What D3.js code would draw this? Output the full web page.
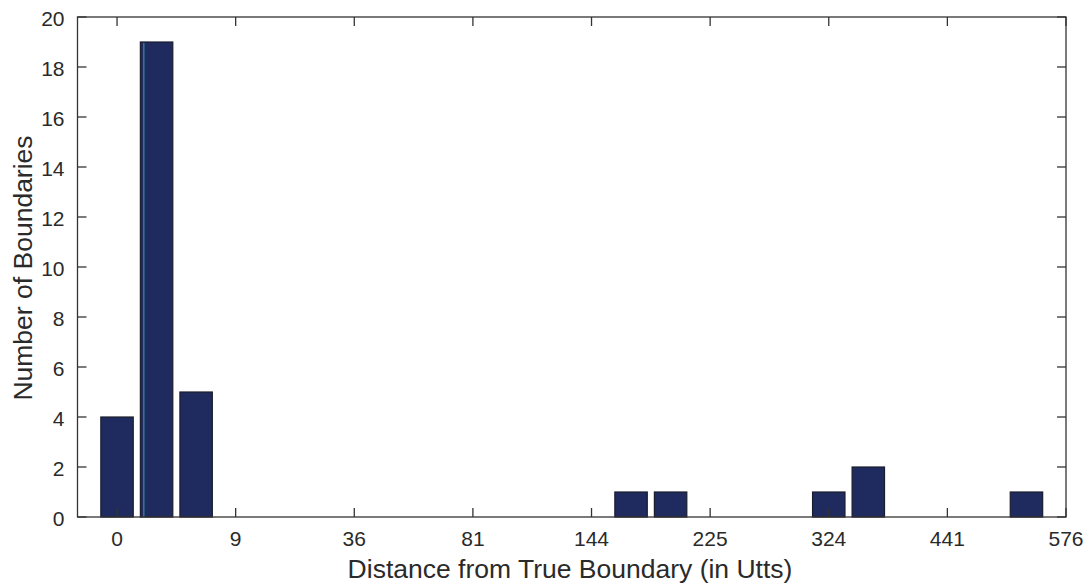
<!DOCTYPE html>
<html>
<head>
<meta charset="utf-8">
<script src="https://cdn.jsdelivr.net/npm/d3@7"></script>
<style>
  body { margin: 0; background: #fff; }
  text { font-family: "Liberation Sans", Arial, sans-serif; fill: #2a2a2a; }
</style>
</head>
<body>
<div id="chart"></div>
<script>
// distances (in utts) and number of boundaries found at each
var distances = [0, 1, 4, 169, 196, 324, 361, 529];
var counts = [4, 19, 5, 1, 1, 1, 2, 1];
var xTickValues = [0, 9, 36, 81, 144, 225, 324, 441, 576];
var yTickValues = [0, 2, 4, 6, 8, 10, 12, 14, 16, 18, 20];

var W = 1091, H = 586;
var plotLeft = 77.5, plotRight = 1066, plotTop = 17, plotBottom = 517;

var svg = d3.select('#chart').append('svg').attr('width', W).attr('height', H);

// x axis is drawn in square-root units
var x = d3.scaleLinear().domain([-1, 24]).range([plotLeft, plotRight]);
var y = d3.scaleLinear().domain([0, 20]).range([plotBottom, plotTop]);
var barW = x(0.82) - x(0);

var data = distances.map((d, i) => ({ d: d, n: counts[i] }));

svg.selectAll('.bar')
    .data(data)
    .enter()
    .append('rect')
    .attr('class', 'bar')
    .attr('x', (a) => x(Math.sqrt(a.d)) - barW / 2)
    .attr('y', (a) => y(a.n))
    .attr('width', barW)
    .attr('height', (a) => y(0) - y(a.n))
    .attr('fill', '#1f2b5e')
    .attr('stroke', '#1a1d2e')
    .attr('stroke-width', 1.2);

// the thin cyan streak on the tallest bar
var tall = data[1];
svg.append('line')
    .attr('x1', x(Math.sqrt(tall.d)) - barW / 2 + 3.5)
    .attr('x2', x(Math.sqrt(tall.d)) - barW / 2 + 3.5)
    .attr('y1', y(tall.n) + 1)
    .attr('y2', y(0))
    .attr('stroke', '#3e9fae')
    .attr('stroke-width', 1);

var axisColor = '#333';
var tick = 9;

// box
svg.append('rect')
    .attr('x', plotLeft).attr('y', plotTop)
    .attr('width', plotRight - plotLeft).attr('height', plotBottom - plotTop)
    .attr('fill', 'none')
    .attr('stroke', axisColor)
    .attr('stroke-width', 1.3);

// x ticks, bottom and top, pointing inward
var gx = svg.append('g');
xTickValues.forEach(function (v) {
    var px = x(Math.sqrt(v));
    gx.append('line').attr('x1', px).attr('x2', px).attr('y1', plotBottom).attr('y2', plotBottom - tick)
        .attr('stroke', axisColor).attr('stroke-width', 1.3);
    gx.append('line').attr('x1', px).attr('x2', px).attr('y1', plotTop).attr('y2', plotTop + tick)
        .attr('stroke', axisColor).attr('stroke-width', 1.3);
    gx.append('text')
        .attr('x', px)
        .attr('y', plotBottom + 29)
        .attr('text-anchor', 'middle')
        .attr('font-size', 21)
        .text(v);
});

// y ticks, left and right
var gy = svg.append('g');
yTickValues.forEach(function (v) {
    var py = y(v);
    gy.append('line').attr('x1', plotLeft).attr('x2', plotLeft + tick).attr('y1', py).attr('y2', py)
        .attr('stroke', axisColor).attr('stroke-width', 1.3);
    gy.append('line').attr('x1', plotRight).attr('x2', plotRight - tick).attr('y1', py).attr('y2', py)
        .attr('stroke', axisColor).attr('stroke-width', 1.3);
    gy.append('text')
        .attr('x', plotLeft - 13)
        .attr('y', py + 8.5)
        .attr('text-anchor', 'end')
        .attr('font-size', 21)
        .text(v);
});

svg.append('text')
    .attr('x', 570)
    .attr('y', 578)
    .attr('text-anchor', 'middle')
    .attr('font-size', 26.5)
    .text('Distance from True Boundary (in Utts)');

svg.append('text')
    .attr('transform', 'translate(32,268) rotate(-90)')
    .attr('text-anchor', 'middle')
    .attr('font-size', 26.5)
    .text('Number of Boundaries');
</script>
</body>
</html>
